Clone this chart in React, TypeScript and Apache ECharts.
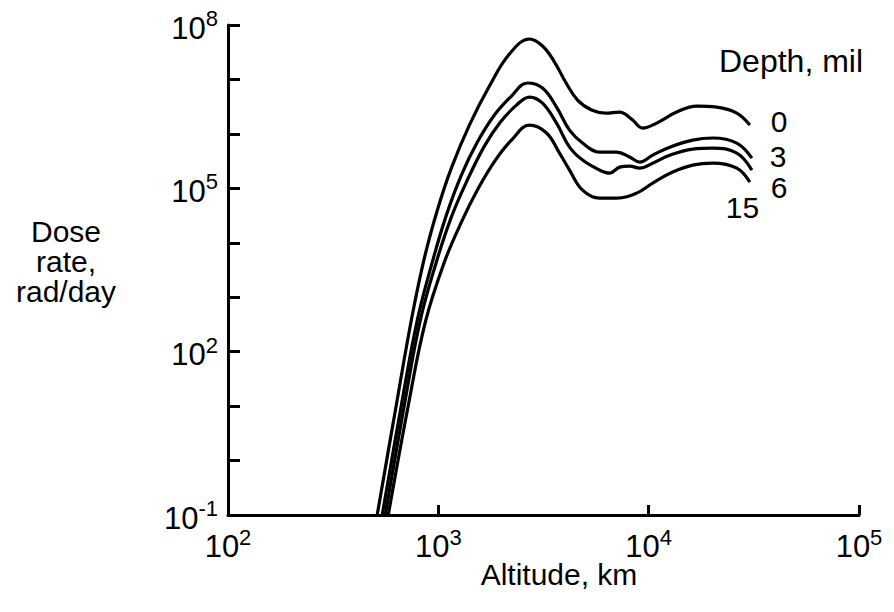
import React, { useEffect, useRef } from 'react';
import * as echarts from 'echarts';

const FONT = '"Liberation Sans", Arial, Helvetica, sans-serif';

// Depth labels (mil)
const depthLabels = ['0', '3', '6', '15'];

// [altitude km, dose rate rad/day]
const curve0: [number, number][] = [
  [512, 0.1], [631, 10.4], [744, 378], [858, 5210], [989, 3.97e4], [1153, 2.35e5],
  [1405, 1.45e6], [1750, 7.56e6], [2178, 2.93e7], [2713, 5.53e7], [3128, 4.11e7],
  [3567, 2.09e7], [4026, 8.96e6], [4591, 4.18e6], [5354, 2.74e6], [6241, 2.41e6],
  [7277, 2.52e6], [8299, 1.87e6], [9364, 1.28e6], [10916, 1.58e6], [13594, 2.52e6],
  [16927, 3.24e6], [21078, 3.11e6], [26244, 2.41e6], [30269, 1.45e6],
];
const curve3: [number, number][] = [
  [541, 0.1], [667, 10.4], [794, 378], [936, 4400], [1092, 3.22e4], [1287, 1.75e5],
  [1534, 7.07e5], [1848, 2.22e6], [2227, 4.95e6], [2654, 8.6e6], [3128, 6.95e6],
  [3647, 3.11e6], [4206, 1.17e6], [4850, 6.78e5], [5845, 4.63e5], [7041, 4.63e5],
  [8120, 3.75e5], [9061, 3.03e5], [10447, 4.07e5], [12589, 5.71e5], [16198, 7.7e5],
  [20180, 8.4e5], [26244, 6.78e5], [30944, 3.59e5],
];
const curve6: [number, number][] = [
  [559, 0.1], [689, 10.4], [821, 378], [978, 4400], [1153, 2.96e4], [1374, 1.42e5],
  [1656, 5.97e5], [1974, 1.65e6], [2352, 3.38e6], [2713, 4.75e6], [3128, 3.68e6],
  [3647, 1.58e6], [4206, 5.71e5], [4850, 3.3e5], [5845, 2.16e5], [6522, 1.9e5],
  [7277, 2.45e5], [8120, 2.56e5], [9061, 2.35e5], [10447, 2.9e5], [12589, 4.07e5],
  [16198, 5.26e5], [20180, 5.48e5], [26244, 4.44e5], [30944, 2.16e5],
];
const curve15: [number, number][] = [
  [578, 0.1], [720, 10.4], [867, 347], [1068, 4400], [1287, 2.39e4], [1551, 1.01e5],
  [1868, 3.3e5], [2227, 7.69e5], [2713, 1.45e6], [3268, 1.04e6], [3769, 4.44e5],
  [4206, 2.16e5], [4850, 9.27e4], [5845, 6.61e4], [7041, 6.61e4], [8767, 8.17e4],
  [10447, 1.25e5], [13013, 1.99e5], [16198, 2.67e5], [20180, 2.9e5], [26244, 2.35e5],
  [30269, 1.3e5],
];

const curves = [curve0, curve3, curve6, curve15];
const labelOffsets: [number, number][] = [[13, -4], [10, -2], [11, 17], [-32, 25]];

// tick label exponents shown on y axis
const yLabelExponents = [-1, 2, 5, 8];

const rich = {
  b: { fontSize: 31, fontFamily: FONT, color: '#000', verticalAlign: 'bottom', lineHeight: 32 },
  s: { fontSize: 22, fontFamily: FONT, color: '#000', verticalAlign: 'bottom', lineHeight: 22, padding: [0, 0, 14, 0] },
};

export default function App() {
  const ref = useRef<HTMLDivElement>(null);
  useEffect(() => {
    const chart = echarts.init(ref.current!, null, { renderer: 'svg' });
    chart.setOption({
      animation: false,
      backgroundColor: '#fff',
      grid: { left: 228, right: 35, top: 25, bottom: 97, containLabel: false },
      xAxis: {
        type: 'log', logBase: 10, min: 100, max: 100000, interval: 1,
        axisLine: { lineStyle: { color: '#000', width: 3 } },
        axisTick: { inside: true, length: 10, lineStyle: { color: '#000', width: 3 } },
        splitLine: { show: false },
        axisLabel: {
          margin: 15,
          formatter: (v: number) => `{b|10}{s|${Math.round(Math.log10(v))}}`,
          rich,
        },
      },
      yAxis: {
        type: 'log', logBase: 10, min: 0.1, max: 1e8, interval: 1,
        axisLine: { lineStyle: { color: '#000', width: 3 } },
        axisTick: { inside: true, length: 12, lineStyle: { color: '#000', width: 3 } },
        splitLine: { show: false },
        axisLabel: {
          margin: 10,
          padding: [5, 0, 0, 0],
          formatter: (v: number) => {
            const e = Math.round(Math.log10(v));
            return yLabelExponents.includes(e) ? `{b|10}{s|${e}}` : '';
          },
          rich,
        },
      },
      series: curves.map((c, i) => ({
        type: 'line',
        data: c,
        smooth: 0.4,
        showSymbol: false,
        lineStyle: { color: '#000', width: 3.2 },
        endLabel: {
          show: true,
          formatter: depthLabels[i],
          offset: labelOffsets[i],
          fontSize: 30,
          lineHeight: 24,
          fontFamily: FONT,
          color: '#000',
        },
      })),
      graphic: [
        {
          type: 'text', x: 66, y: 261,
          style: {
            text: 'Dose\nrate,\nrad/day', font: `30px ${FONT}`, fill: '#000',
            textAlign: 'center', textVerticalAlign: 'middle', lineHeight: 30,
          },
        },
        {
          type: 'text', x: 559, y: 574,
          style: { text: 'Altitude, km', font: `30px ${FONT}`, fill: '#000', textAlign: 'center', textVerticalAlign: 'middle' },
        },
        {
          type: 'text', x: 719, y: 61,
          style: { text: 'Depth, mil', font: `32px ${FONT}`, fill: '#000', textAlign: 'left', textVerticalAlign: 'middle' },
        },
      ],
    });
    return () => chart.dispose();
  }, []);
  return <div ref={ref} style={{ position: 'absolute', left: 0, top: 0, width: 894, height: 612 }} />;
}
